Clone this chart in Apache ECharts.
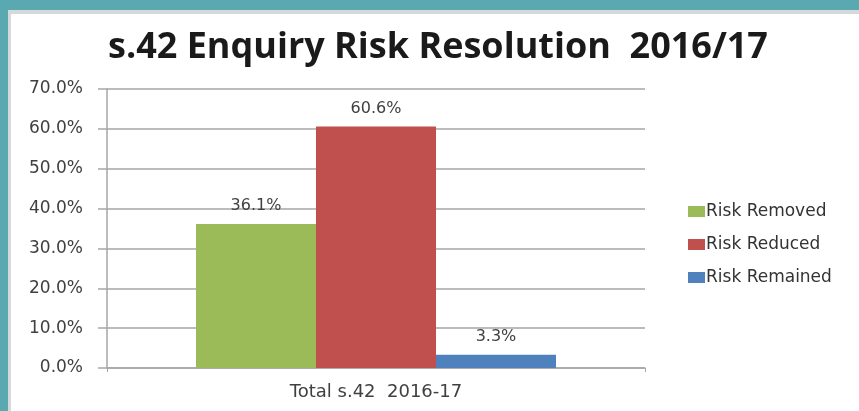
<!DOCTYPE html>
<html>
<head>
<meta charset="utf-8">
<script src="https://cdn.jsdelivr.net/npm/echarts@6/dist/echarts.min.js"></script>
<style>
  html, body { margin: 0; padding: 0; width: 859px; height: 411px; overflow: hidden; background: #5aa8b0; }
  #frame { position: absolute; left: 8px; top: 10px; width: 851px; height: 401px; background: #fff;
           border-left: 3px solid #d4d9da; border-top: 4px solid #d4d9da; box-sizing: border-box; }
  #main { position: absolute; left: 0; top: 0; width: 859px; height: 411px; }
</style>
</head>
<body>
<div id="frame"></div>
<div id="main"></div>
<script>
// chart data
var categories = ['Total s.42  2016-17'];
var seriesNames = ['Risk Removed', 'Risk Reduced', 'Risk Remained'];
var riskRemoved = [36.1];
var riskReduced = [60.6];
var riskRemained = [3.3];
var seriesColors = ['#9bbb59', '#c0504d', '#4f81bd'];

var myChart = echarts.init(document.getElementById('main'));

var labelFont = 'DejaVu Sans';

function makeSeries(name, values, color) {
  return {
    name: name,
    type: 'bar',
    barWidth: 120,
    barGap: '0%',
    data: values,
    itemStyle: { color: color },
    label: {
      show: true,
      position: 'top',
      distance: 10,
      color: '#404040',
      fontFamily: labelFont,
      fontSize: 16,
      formatter: function (p) { return p.value.toFixed(1) + '%'; }
    }
  };
}

myChart.setOption({
  animation: false,
  backgroundColor: 'transparent',
  title: {
    text: 's.42 Enquiry Risk Resolution  2016/17',
    left: 108,
    top: 30,
    padding: 0,
    textStyle: {
      fontFamily: 'Open Sans',
      fontWeight: 'bold',
      fontSize: 36,
      color: '#1a1a1a'
    }
  },
  legend: {
    orient: 'vertical',
    left: 683,
    top: 198,
    itemWidth: 17,
    itemHeight: 11,
    itemGap: 16,
    icon: 'rect',
    data: seriesNames,
    textStyle: { fontFamily: labelFont, fontSize: 17, color: '#333', padding: [0, 0, 0, -4] }
  },
  grid: {
    left: 107,
    top: 89,
    width: 538,
    height: 279
  },
  xAxis: {
    type: 'category',
    data: categories,
    axisLine: { lineStyle: { color: '#a6a6a6', width: 1.5 } },
    axisTick: { show: true, length: 4, lineStyle: { color: '#a6a6a6' } },
    axisLabel: { color: '#404040', fontFamily: labelFont, fontSize: 18, margin: 15 }
  },
  yAxis: {
    type: 'value',
    min: 0,
    max: 70,
    interval: 10,
    axisLine: { show: true, lineStyle: { color: '#a6a6a6', width: 1.5 } },
    axisTick: { show: true, length: 9, lineStyle: { color: '#a6a6a6', width: 1.5 } },
    splitLine: { lineStyle: { color: '#a6a6a6', width: 1.5 } },
    axisLabel: {
      color: '#404040',
      fontFamily: labelFont,
      fontSize: 17,
      margin: 24,
      formatter: function (v) { return v.toFixed(1) + '%'; }
    }
  },
  series: [
    makeSeries(seriesNames[0], riskRemoved, seriesColors[0]),
    makeSeries(seriesNames[1], riskReduced, seriesColors[1]),
    makeSeries(seriesNames[2], riskRemained, seriesColors[2])
  ]
});
</script>
</body>
</html>
